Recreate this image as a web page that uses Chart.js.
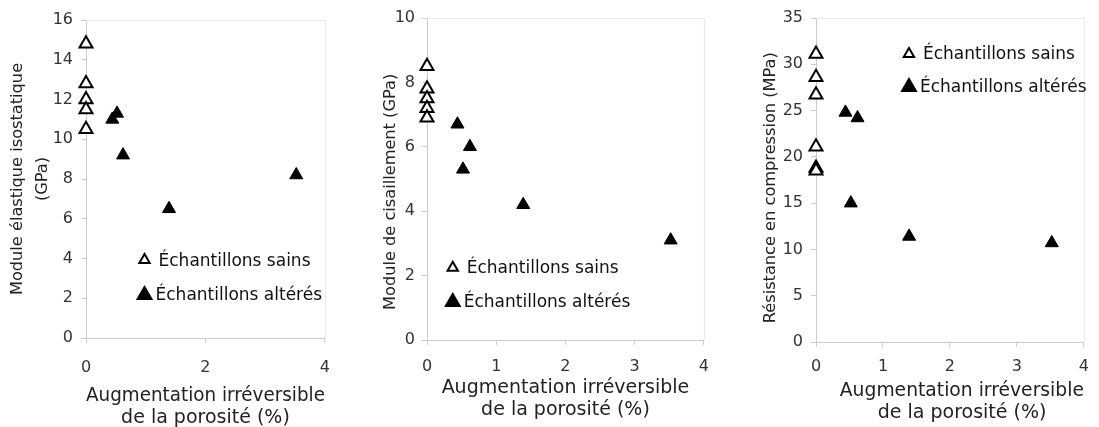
<!DOCTYPE html>
<html>
<head>
<meta charset="utf-8">
<script src="https://cdn.jsdelivr.net/npm/chart.js@4.4.1/dist/chart.umd.min.js"></script>
<style>
  html, body { margin: 0; padding: 0; background: #ffffff; }
  body { width: 1099px; height: 427px; position: relative; overflow: hidden; }
  .panel { position: absolute; top: 0; }
</style>
</head>
<body>
<div class="panel" style="left:0px"><canvas id="c1" width="345" height="427"></canvas></div>
<div class="panel" style="left:366px"><canvas id="c2" width="355" height="427"></canvas></div>
<div class="panel" style="left:732px"><canvas id="c3" width="367" height="427"></canvas></div>
<script>
// ---- Data ----
const legendLabels = ['Échantillons sains', 'Échantillons altérés'];
const xTitle = ['Augmentation irréversible', 'de la porosité (%)'];

const xSains1 = [0, 0, 0, 0, 0];
const moduleElastiqueSains = [14.8, 12.8, 12.0, 11.5, 10.5];
const xAlteres = [0.44, 0.52, 0.62, 1.39, 3.52];
const moduleElastiqueAlteres = [11.0, 11.3, 9.2, 6.5, 8.2];

const xSains2 = [0, 0, 0, 0, 0];
const moduleCisaillementSains = [8.5, 7.8, 7.5, 7.2, 6.9];
const moduleCisaillementAlteres = [6.7, 5.3, 6.0, 4.2, 3.1];

const xSains3 = [0, 0, 0, 0, 0, 0];
const resistanceSains = [31.1, 28.6, 26.7, 21.1, 18.8, 18.5];
const resistanceAlteres = [24.8, 15.0, 24.2, 11.4, 10.7];

const yTitle1 = ['Module élastique isostatique', '(GPa)'];
const yTitle2 = 'Module de cisaillement (GPa)';
const yTitle3 = 'Résistance en compression (MPa)';

// ---- Helpers ----
Chart.defaults.font.family = '"DejaVu Sans", sans-serif';
Chart.defaults.color = '#333';

function pts(xs, ys) { return ys.map((y, i) => ({ x: xs[i], y: y })); }
// shift a centred title along its axis by padding it with spaces
function padEnd(t, n) { return Array.isArray(t) ? t.map(s => padEnd(s, n)) : t + ' '.repeat(n); }
function padStart(t, n) { return Array.isArray(t) ? t.map(s => padStart(s, n)) : ' '.repeat(n) + t; }

const framePlugin = {
  id: 'frame',
  beforeDatasetsDraw(chart) {
    const { ctx, chartArea: a } = chart;
    ctx.save();
    ctx.strokeStyle = '#e8e8e8';
    ctx.lineWidth = 1;
    ctx.beginPath();
    ctx.moveTo(a.left, a.top + 0.5);
    ctx.lineTo(a.right + 0.5, a.top + 0.5);
    ctx.lineTo(a.right + 0.5, a.bottom);
    ctx.stroke();
    ctx.restore();
  }
};

const insideLegend = {
  id: 'insideLegend',
  afterDatasetsDraw(chart, args, opts) {
    const { ctx, chartArea: a } = chart;
    ctx.save();
    ctx.font = '17px "DejaVu Sans", sans-serif';
    ctx.textBaseline = 'middle';
    chart.data.datasets.forEach((ds, i) => {
      const x = a.left + opts.fx * (a.right - a.left);
      const y = a.top + opts.fy[i] * (a.bottom - a.top);
      ctx.fillStyle = ds.backgroundColor;
      ctx.strokeStyle = ds.borderColor;
      ctx.lineWidth = 2;
      Chart.helpers.drawPoint(ctx, { pointStyle: 'triangle', radius: i === 0 ? 6 : 8, borderWidth: 2 }, x, y);
      ctx.fillStyle = '#111';
      ctx.fillText(ds.label, x + (i === 0 ? 14 : 11), y + 1);
    });
    ctx.restore();
  }
};

function makeChart(id, cfg) {
  const datasets = [
    {
      label: legendLabels[0],
      data: pts(cfg.xs, cfg.sains),
      pointStyle: 'triangle',
      pointRadius: 7.5,
      pointHoverRadius: 7.5,
      borderWidth: 2,
      backgroundColor: '#ffffff',
      borderColor: '#000000',
      clip: false
    },
    {
      label: legendLabels[1],
      data: pts(xAlteres, cfg.alteres),
      pointStyle: 'triangle',
      pointRadius: 7.5,
      pointHoverRadius: 7.5,
      borderWidth: 1,
      backgroundColor: '#000000',
      borderColor: '#000000',
      clip: false
    }
  ];
  return new Chart(document.getElementById(id), {
    type: 'scatter',
    data: { datasets },
    plugins: [framePlugin, insideLegend],
    options: {
      responsive: false,
      animation: false,
      events: [],
      layout: { padding: { left: 0, right: cfg.padRight, top: cfg.padTop, bottom: 0 } },
      plugins: {
        legend: { display: false },
        tooltip: { enabled: false },
        insideLegend: { fx: cfg.legendFx, fy: cfg.legendFy }
      },
      scales: {
        x: {
          type: 'linear',
          min: 0, max: 4,
          ticks: { stepSize: cfg.xStep, font: { size: 16 }, color: '#333', padding: cfg.xTickPad },
          grid: { drawOnChartArea: false, drawTicks: true, tickLength: 5, color: '#cccccc' },
          border: { color: '#cccccc' },
          title: { display: true, text: padStart(xTitle, cfg.xTitleShift), font: { size: 19, lineHeight: 1.15 }, color: '#222', padding: { top: 0, bottom: cfg.xTitlePad } },
          afterFit(scale) { scale.height = cfg.xAxisH; }
        },
        y: {
          type: 'linear',
          min: 0, max: cfg.yMax,
          ticks: { stepSize: cfg.yStep, font: { size: 16 }, color: '#333', padding: cfg.yTickPad },
          grid: { drawOnChartArea: false, drawTicks: true, tickLength: 5, color: '#cccccc' },
          border: { color: '#cccccc' },
          title: { display: true, text: padEnd(cfg.yTitle, cfg.yTitleShift), font: { size: 16.2, lineHeight: 1.5 }, color: '#222', padding: { top: cfg.yTitlePad, bottom: 0 } },
          afterFit(scale) { scale.width = cfg.yAxisW; }
        }
      }
    }
  });
}

makeChart('c1', {
  xs: xSains1, sains: moduleElastiqueSains, alteres: moduleElastiqueAlteres,
  yMax: 16, yStep: 2, xStep: 2, yTitle: yTitle1,
  padRight: 14, padTop: 20, yAxisW: 86, xAxisH: 89,
  xTickPad: 15, yTickPad: 8, xTitlePad: -2, yTitlePad: 6,
  xTitleShift: 0, yTitleShift: 0,
  legendFx: 0.245, legendFy: [0.755, 0.865]
});
makeChart('c2', {
  xs: xSains2, sains: moduleCisaillementSains, alteres: moduleCisaillementAlteres,
  yMax: 10, yStep: 2, xStep: 1, yTitle: yTitle2,
  padRight: 14, padTop: 18, yAxisW: 61, xAxisH: 87,
  xTickPad: 12, yTickPad: 7, xTitlePad: 6, yTitlePad: 13,
  xTitleShift: 0, yTitleShift: 5,
  legendFx: 0.093, legendFy: [0.776, 0.882]
});
makeChart('c3', {
  xs: xSains3, sains: resistanceSains, alteres: resistanceAlteres,
  yMax: 35, yStep: 5, xStep: 1, yTitle: yTitle3,
  padRight: 6, padTop: 18, yAxisW: 84, xAxisH: 85,
  xTickPad: 10, yTickPad: 8, xTitlePad: 3, yTitlePad: 27,
  xTitleShift: 4, yTitleShift: 3,
  legendFx: 0.347, legendFy: [0.111, 0.213]
});
</script>
</body>
</html>
